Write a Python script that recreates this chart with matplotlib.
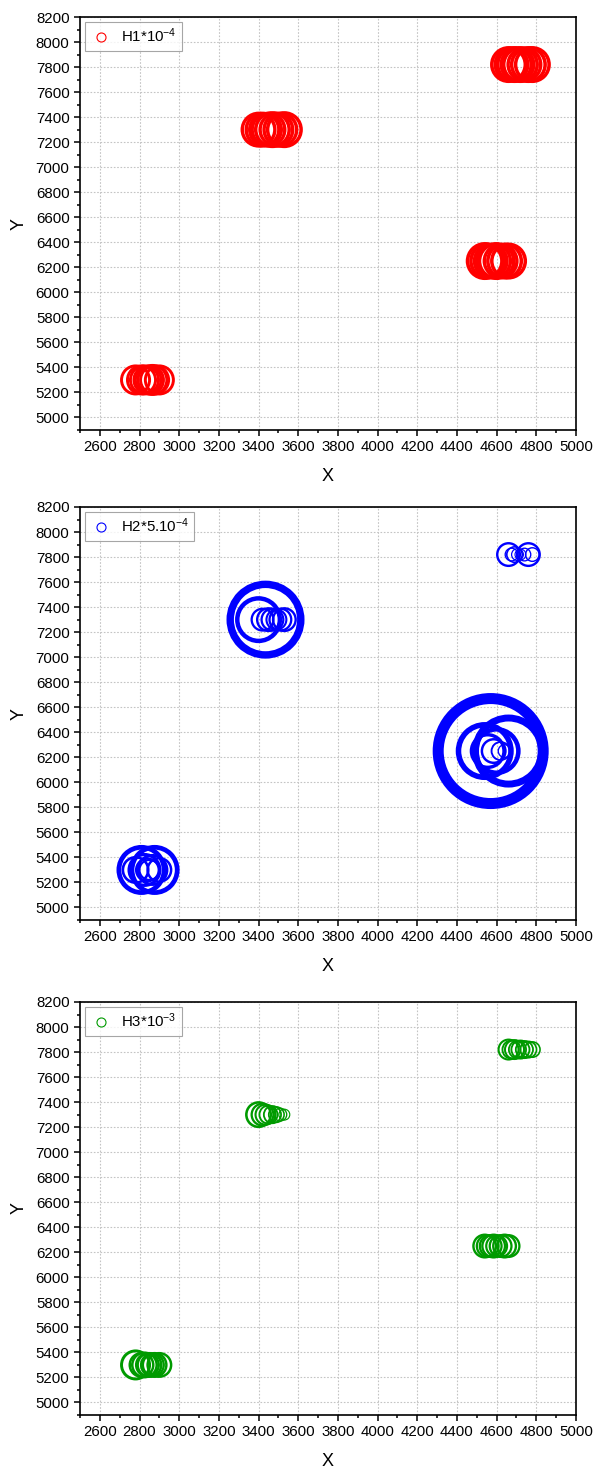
import numpy as np
from matplotlib import pyplot as plt
from matplotlib.lines import Line2D
from matplotlib.ticker import MultipleLocator

plt.rcParams['font.family'] = ['Liberation Sans', 'DejaVu Sans']
plt.rcParams['mathtext.fontset'] = 'custom'
plt.rcParams['mathtext.rm'] = 'Liberation Sans'
plt.rcParams['mathtext.it'] = 'Liberation Sans'

# bubble centres (same sites in the three panels)
x = [2780, 2810, 2825, 2840, 2850, 2865, 2876, 2900,
     3400, 3420, 3435, 3450, 3470, 3490, 3510, 3530,
     4540, 4555, 4570, 4585, 4600, 4620, 4640, 4660,
     4660, 4675, 4690, 4705, 4720, 4740, 4760, 4780]
y = [5300, 5300, 5300, 5300, 5300, 5300, 5300, 5300,
     7300, 7300, 7300, 7300, 7300, 7300, 7300, 7300,
     6250, 6250, 6250, 6250, 6250, 6250, 6250, 6250,
     7820, 7820, 7820, 7820, 7820, 7820, 7820, 7820]

# bubble values (scaled as in legend)
h1 = [3.1, 3.1, 3.1, 3.0, 3.1, 3.2, 3.1, 3.1,
      3.6, 3.6, 3.5, 3.6, 3.7, 3.6, 3.6, 3.7,
      3.8, 3.7, 3.6, 3.7, 3.8, 3.6, 3.7, 3.7,
      3.7, 3.6, 3.7, 3.6, 3.7, 3.6, 3.7, 3.7]
h2 = [2.8, 5.0, 3.4, 2.5, 2.2, 3.2, 5.0, 2.6,
      4.7, 2.4, 7.8, 2.5, 2.4, 2.2, 2.4, 2.5,
      5.8, 3.6, 11.6, 2.6, 4.8, 2.0, 1.4, 7.3,
      2.5, 1.4, 1.7, 1.3, 1.2, 1.4, 2.5, 1.5]
h3 = [3.1, 2.6, 2.7, 2.5, 2.6, 2.5, 2.6, 2.6,
      2.7, 2.4, 2.2, 2.0, 1.9, 1.7, 1.4, 1.2,
      2.5, 2.4, 2.4, 2.5, 2.3, 2.4, 2.5, 2.4,
      2.2, 2.0, 2.1, 1.9, 2.0, 1.9, 1.8, 1.7]

series = [h1, h2, h3]
labels = ['H1*10$^{-4}$', 'H2*5.10$^{-4}$', 'H3*10$^{-3}$']
colores = ['#FF0000', '#0000FF', '#009A00']
bottoms = [1 - 430/1468, 1 - 920/1468, 1 - 1415/1468]

fig = plt.figure(figsize=(5.93, 14.68), dpi=100)

for h, lab, col, b in zip(series, labels, colores, bottoms):
    ax = fig.add_axes([80/593, b, 496/593, 413/1468])
    d = np.array(h) * 10          # outer diameter in px
    lw = 0.095 * d
    s = ((d - lw) * 0.72) ** 2
    ax.scatter(x, y, s=s, facecolors='none', edgecolors=col, linewidths=lw * 0.72, zorder=3)

    ax.set_xlim(2500, 5000)
    ax.set_ylim(4900, 8200)
    ax.xaxis.set_minor_locator(MultipleLocator(100))
    ax.yaxis.set_minor_locator(MultipleLocator(100))
    ax.set_xticks(np.arange(2600, 5001, 200))
    ax.set_yticks(np.arange(5000, 8201, 200))
    ax.tick_params(which='both', direction='out', top=False, right=False, width=1.1, labelsize=10.8, pad=3)
    ax.tick_params(which='major', length=4.5)
    ax.tick_params(which='minor', length=2.5)
    ax.grid(True, which='major', linestyle=(0, (1.5, 1.5)), color='#C4C4C4', linewidth=0.8)
    ax.set_axisbelow(True)
    for sp in ax.spines.values():
        sp.set_linewidth(1.2)
    ax.set_xlabel('X', fontsize=13, labelpad=10)
    ax.set_ylabel('Y', fontsize=13, labelpad=6)

    mark = Line2D([], [], marker='o', linestyle='none', markerfacecolor='none',
                  markeredgecolor=col, markersize=6.5, markeredgewidth=0.8)
    leg = ax.legend([mark], [lab], loc='upper left', fancybox=False, fontsize=10.8,
                    borderaxespad=0.3, handletextpad=0.6, borderpad=0.35, handlelength=1.5)
    leg.get_frame().set_edgecolor('#909090')
    leg.get_frame().set_linewidth(0.8)

plt.savefig('out.png', dpi=100)
